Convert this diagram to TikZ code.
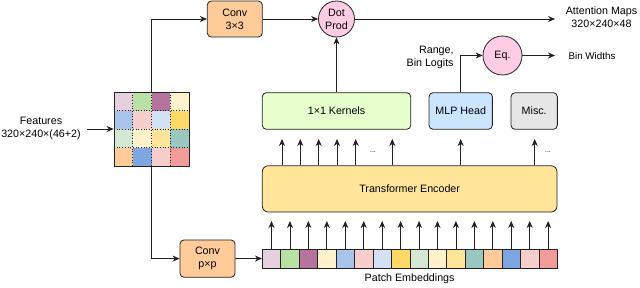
\documentclass[tikz,border=0pt]{standalone}
\usepackage{fontspec}
\setmainfont{Liberation Sans}
\usetikzlibrary{arrows.meta,calc}
\definecolor{cA}{HTML}{E6D0DE}
\definecolor{cB}{HTML}{B9E0A5}
\definecolor{cC}{HTML}{B5739D}
\definecolor{cD}{HTML}{FFF2CC}
\definecolor{cE}{HTML}{A9C4EB}
\definecolor{cF}{HTML}{F8CECC}
\definecolor{cG}{HTML}{D4E1F5}
\definecolor{cH}{HTML}{FFD966}
\definecolor{cI}{HTML}{D5E8D4}
\definecolor{cJ}{HTML}{FFF2CC}
\definecolor{cK}{HTML}{FFE599}
\definecolor{cL}{HTML}{9AC7BF}
\definecolor{cM}{HTML}{FFCC99}
\definecolor{cN}{HTML}{7EA6E0}
\definecolor{cO}{HTML}{F8CECC}
\definecolor{cP}{HTML}{F19C99}
\definecolor{convc}{HTML}{FFCC99}
\definecolor{pinkc}{HTML}{FFCCE6}
\definecolor{kernc}{HTML}{E6FFCC}
\definecolor{mlpc}{HTML}{CCE5FF}
\definecolor{miscc}{HTML}{E6E6E6}
\definecolor{encc}{HTML}{FFE599}
\definecolor{linec}{HTML}{222222}
\begin{document}
\begin{tikzpicture}[x=1pt,y=-1pt,
  font=\fontsize{10.7}{13}\selectfont,
  line width=0.8pt,
  >={Stealth[length=7pt,width=6pt,inset=2.2pt]},
  box/.style={draw=linec, rounded corners=4pt, align=center, inner sep=0pt},
  roundnode/.style={draw=linec, circle, fill=pinkc, align=center, inner sep=0pt},
  conn/.style={draw=linec, ->},
  cellbox/.style={draw=linec, minimum width=18.44pt, minimum height=19pt, inner sep=0pt, line width=0.6pt},
  lbl/.style={align=center, inner sep=0pt}
]
\useasboundingbox (0,0) rectangle (640,287);

% grid of features
\foreach \c [count=\i from 0] in {cA,cB,cC,cD,cE,cF,cG,cH,cI,cJ,cK,cL,cM,cN,cO,cP}{
  \pgfmathtruncatemacro{\row}{int(\i/4)}
  \pgfmathtruncatemacro{\col}{mod(\i,4)}
  \fill[\c] ({114+\col*18.75},{92+\row*18.5}) rectangle ++(18.75,18.5);
}
\foreach \k in {1,2,3}{
  \draw[linec, dotted, line width=0.7pt] ({114+\k*18.75},92) -- ++(0,74);
  \draw[linec, dotted, line width=0.7pt] (114,{92+\k*18.5}) -- ++(75,0);
}
\node[draw=linec, minimum width=75pt, minimum height=74pt, inner sep=0pt] (grid) at (151.5,129) {};

% features label
\node[lbl] (feat) at (41,128) {Features\\320×240×(46+2)};
\coordinate (fin) at (87,129);
\draw[conn] (fin) -- (grid.west);

% conv 3x3
\node[box, fill=convc, minimum width=55pt, minimum height=36pt] (conv3) at (234.8,19) {Conv\\3×3};
\draw[conn] (grid.north) |- (conv3.west);

% dot prod
\node[roundnode, minimum size=36pt] (dot) at (336.5,19) {Dot\\Prod};
\draw[conn] (conv3.east) -- (dot.west);
\coordinate (attend) at (555,19);
\draw[conn] (dot.east) -- (attend);
\node[lbl] (attn) at (601.5,17.5) {Attention Maps\\320×240×48};

% heads
\node[box, fill=kernc, minimum width=148.4pt, minimum height=36.6pt] (kern) at (336.5,111) {1×1 Kernels};
\node[box, fill=mlpc, minimum width=63.3pt, minimum height=36.6pt] (mlp) at (460.7,111) {MLP Head};
\node[box, fill=miscc, minimum width=46.3pt, minimum height=36.6pt] (misc) at (534.2,111) {Misc.};
\draw[conn] (kern.north) -- (dot.south);

% eq
\node[roundnode, minimum size=39pt] (eq) at (502.5,55.5) {Eq.};
\draw[conn] (mlp.north) |- (eq.west);
\node[lbl, anchor=east, align=right] (range) at (454,57) {Range,\\Bin Logits};
\coordinate (binend) at (555,55.5);
\draw[conn] (eq.east) -- (binend);
\node[lbl, font=\fontsize{9.8}{12}\selectfont] (bin) at (592,55.5) {Bin Widths};

% transformer encoder
\node[box, rounded corners=6pt, fill=encc, minimum width=294.7pt, minimum height=46.3pt] (enc) at (409.65,188.9) {Transformer Encoder};

% arrows above encoder
\foreach \x [count=\j] in {282,300.3,318.7,337,355.7,392.3,460.7,534.7}{
  \coordinate (u\j) at (\x,139);
  \draw[conn] (u\j |- enc.north) -- (u\j);
}
\node[lbl, font=\fontsize{7}{8}\selectfont] (dots1) at (373,152) {...};
\node[lbl, font=\fontsize{7}{8}\selectfont] (dots2) at (548,152) {...};

% patch embeddings
\foreach \c [count=\i] in {cA,cB,cC,cD,cE,cF,cG,cH,cI,cJ,cK,cL,cM,cN,cO,cP}{
  \node[cellbox, fill=\c] (p\i) at ({262.3+9.22+(\i-1)*18.44},258.5) {};
  \coordinate (t\i) at ({262.3+9.22+(\i-1)*18.44},221);
  \draw[conn] (p\i.north) -- (t\i);
}
\node[lbl] (patchlbl) at (409.65,278.5) {Patch Embeddings};

% conv pxp
\node[box, fill=convc, minimum width=55pt, minimum height=37.3pt] (convp) at (207.5,258.6) {Conv\\p×p};
\draw[conn] (grid.south) |- (convp.west);
\draw[conn] (convp.east) -- (p1.west);
\end{tikzpicture}
\end{document}
